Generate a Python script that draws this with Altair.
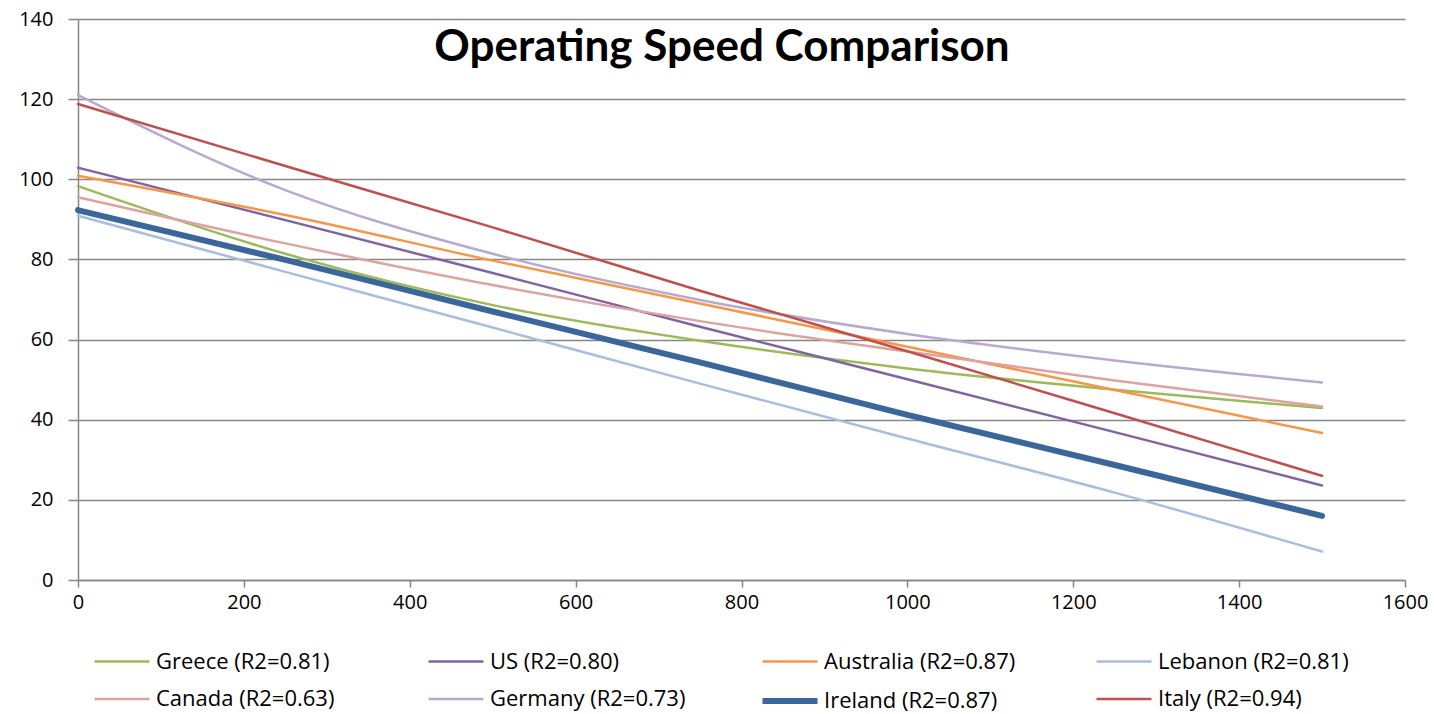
import altair as alt
import pandas as pd

# Data
x_values = [0, 250, 500, 750, 1000, 1250, 1500]

greece = [98.3, 81.4, 68.6, 59.7, 52.8, 47.5, 42.9]
us = [102.9, 89.8, 76.6, 63.2, 50.1, 36.9, 23.6]
australia = [100.9, 91.1, 79.7, 69.0, 58.2, 47.4, 36.7]
lebanon = [90.9, 76.9, 63.0, 49.0, 35.3, 21.8, 7.1]
canada = [95.5, 84.0, 73.6, 64.6, 57.0, 49.8, 43.3]
germany = [121.0, 97.3, 81.4, 69.9, 61.4, 54.8, 49.3]
ireland = [92.3, 79.9, 67.0, 54.3, 41.2, 28.7, 16.0]
italy = [118.8, 103.3, 88.0, 72.2, 57.1, 41.6, 26.0]

series_names = [
    "Greece (R2=0.81)", "US (R2=0.80)", "Australia (R2=0.87)", "Lebanon (R2=0.81)",
    "Canada (R2=0.63)", "Germany (R2=0.73)", "Ireland (R2=0.87)", "Italy (R2=0.94)",
]
series_values = [greece, us, australia, lebanon, canada, germany, ireland, italy]
series_colors = ["#9BBB59", "#8064A2", "#F79646", "#A7BEDE",
                 "#DCA3A1", "#B8A9CE", "#3A6699", "#C0504D"]
series_widths = [2.5, 2.5, 2.5, 2.5, 2.5, 2.5, 6, 2.5]

x_ticks = [0, 200, 400, 600, 800, 1000, 1200, 1400, 1600]
y_ticks = [0, 20, 40, 60, 80, 100, 120, 140]

rows = []
for name, vals in zip(series_names, series_values):
    for xv, yv in zip(x_values, vals):
        rows.append({"series": name, "x": xv, "y": yv})
df = pd.DataFrame(rows)

FONT = "Open Sans"
TITLE_FONT = "Lato"
GRID = "#868686"

lines = alt.Chart(df).mark_line(interpolate="monotone", strokeCap="round").encode(
    x=alt.X("x:Q", scale=alt.Scale(domain=[0, 1600], nice=False),
            axis=alt.Axis(values=x_ticks, format="d", title=None, grid=False, tickSize=7,
                          labelPadding=5, labelFontSize=20, labelFont=FONT,
                          labelFlush=False,
                          labelColor="#000000", domainColor=GRID, tickColor=GRID,
                          domainWidth=1.5, tickWidth=1.5)),
    y=alt.Y("y:Q", scale=alt.Scale(domain=[0, 140], nice=False),
            axis=alt.Axis(values=y_ticks, title=None, grid=True, gridColor=GRID,
                          gridWidth=1.5, tickSize=10, labelPadding=15,
                          labelFontSize=20, labelFont=FONT, labelColor="#000000",
                          labelFlush=False,
                          domainColor=GRID, tickColor=GRID, domainWidth=1.5,
                          tickWidth=1.5)),
    color=alt.Color("series:N", scale=alt.Scale(domain=series_names, range=series_colors),
                    legend=alt.Legend(title=None, orient="none", legendX=27, legendY=626,
                                      columns=4, direction="horizontal",
                                      symbolType="M-2,0H2", symbolSize=756,
                                      symbolStrokeWidth=2.5,
                                      labelFont=FONT, labelFontSize=22,
                                      labelColor="#000000", labelOffset=17,
                                      gridAlign="all", columnPadding=64,
                                      rowPadding=10, labelLimit=400)),
    strokeWidth=alt.StrokeWidth("series:N",
                                scale=alt.Scale(type="ordinal", domain=series_names,
                                                range=series_widths),
                                legend=None),
    order=alt.Order("x:Q"),
)

title_df = pd.DataFrame({"t": ["Operating Speed Comparison"]})
title = alt.Chart(title_df).mark_text(
    font=TITLE_FONT, fontSize=44, fontWeight="bold", color="#000000",
    align="center", baseline="middle"
).encode(text="t:N", x=alt.value(644), y=alt.value(29))

chart = alt.layer(lines, title).properties(
    width=1327, height=561,
    autosize=alt.AutoSizeParams(type="none"),
    padding={"left": 78, "top": 19, "right": 29, "bottom": 134},
).configure(background="#FFFFFF").configure_view(stroke=None)

chart.save("out.html", embed_options={"renderer": "svg", "actions": False})
